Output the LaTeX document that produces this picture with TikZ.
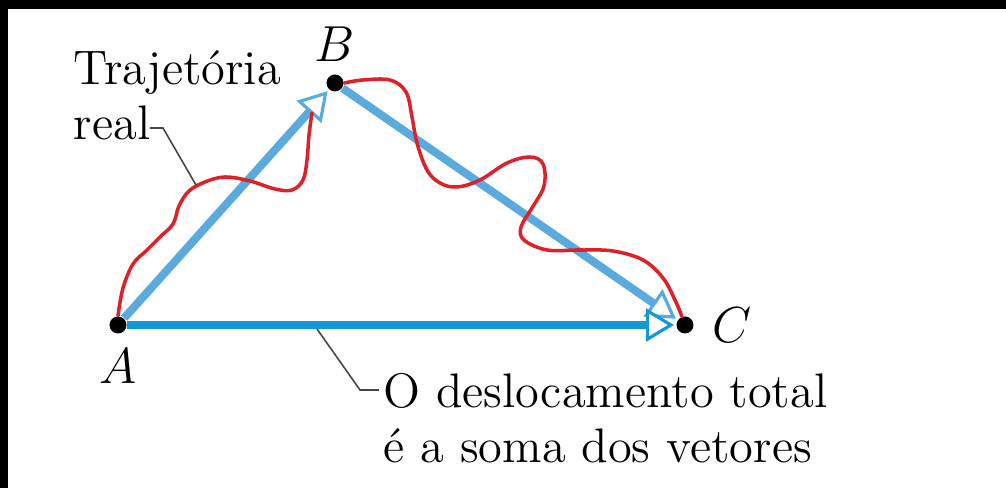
\documentclass[tikz,border=0pt]{standalone}
\usepackage{fontspec}
\usetikzlibrary{positioning,arrows.meta,calc}

\definecolor{vecblue}{RGB}{90,170,222}
\definecolor{sumblue}{RGB}{18,152,212}
\definecolor{pathred}{RGB}{222,32,40}
\definecolor{leadgray}{RGB}{70,70,70}

\begin{document}
\begin{tikzpicture}[
    pnt/.style={circle, fill=black, inner sep=0pt, minimum size=0.17cm},
    lbl/.style={inner sep=0pt, font=\fontsize{13.4}{16}\selectfont},
    txt/.style={inner sep=0pt, align=left, font=\fontsize{13.8}{15.9}\selectfont},
    vec/.style={line width=2.3pt, draw=#1, shorten >=0.5pt,
      -{Triangle[fill=white, line width=0.9pt, length=0.28cm, width=0.33cm]}},
    realpath/.style={draw=pathred, line width=1pt, line cap=round},
    lead/.style={draw=leadgray, line width=0.45pt}
  ]
  % frame
  \useasboundingbox (0,0) rectangle (10.06,4.88);
  \fill[black] (0,0) rectangle (10.06,4.88);
  \fill[white] (0.08,0) rectangle (10.06,4.79);

  % points
  \node[pnt] (A) at (1.18,1.63) {};
  \node[pnt] (B) at (3.35,4.05) {};
  \node[pnt] (C) at (6.85,1.63) {};
  \node[lbl, below=0.14cm of A] (labA) {$A$};
  \node[lbl, above=0.12cm of B] (labB) {$B$};
  \node[lbl, right=0.18cm of C] (labC) {$C$};

  % vectors
  \draw[vec=vecblue] (A) -- (B);
  \draw[vec=vecblue] (B) -- (C);
  \draw[vec=sumblue] (A) -- (C);

  % real path
  \draw[realpath] plot[smooth, tension=0.6] coordinates {(A.north) (1.23,2.00)
    (1.33,2.24) (1.46,2.37) (1.60,2.51) (1.73,2.64) (1.79,2.82) (1.89,2.97)
    (2.05,3.06) (2.25,3.11) (2.50,3.07) (2.75,2.99) (2.92,2.98) (3.03,3.08)
    (3.07,3.28) (3.09,3.53) (3.12,3.75)};
  \draw[realpath] plot[smooth, tension=0.6] coordinates {(B.east) (3.63,4.08)
    (3.90,4.08) (4.06,3.96) (4.12,3.71) (4.17,3.45) (4.27,3.18) (4.40,3.05)
    (4.57,3.01) (4.80,3.08) (5.07,3.25) (5.30,3.31) (5.43,3.24) (5.44,3.02)
    (5.32,2.80) (5.21,2.61) (5.24,2.48) (5.47,2.38) (5.80,2.38) (6.13,2.37)
    (6.43,2.28) (6.63,2.10) (6.75,1.88) (C.110)};

  % texts
  \node[txt, anchor=base west] (traj) at (0.73,3.48) {Trajetória\\real};
  \node[txt, anchor=base west] (soma) at (3.83,0.25) {O deslocamento total\\é a soma dos vetores};

  % leaders
  \coordinate (realend) at (1.50,3.60);
  \coordinate (ontraj) at (1.96,3.03);
  \draw[lead] (realend) -- ++(0.13,0) -- (ontraj);
  \coordinate (onsum) at ($(A)!0.351!(C)+(0,-0.04)$);
  \coordinate (somaend) at (3.79,0.98);
  \draw[lead] (onsum) -- ++(0.43,-0.61) -- (somaend);
\end{tikzpicture}
\end{document}
